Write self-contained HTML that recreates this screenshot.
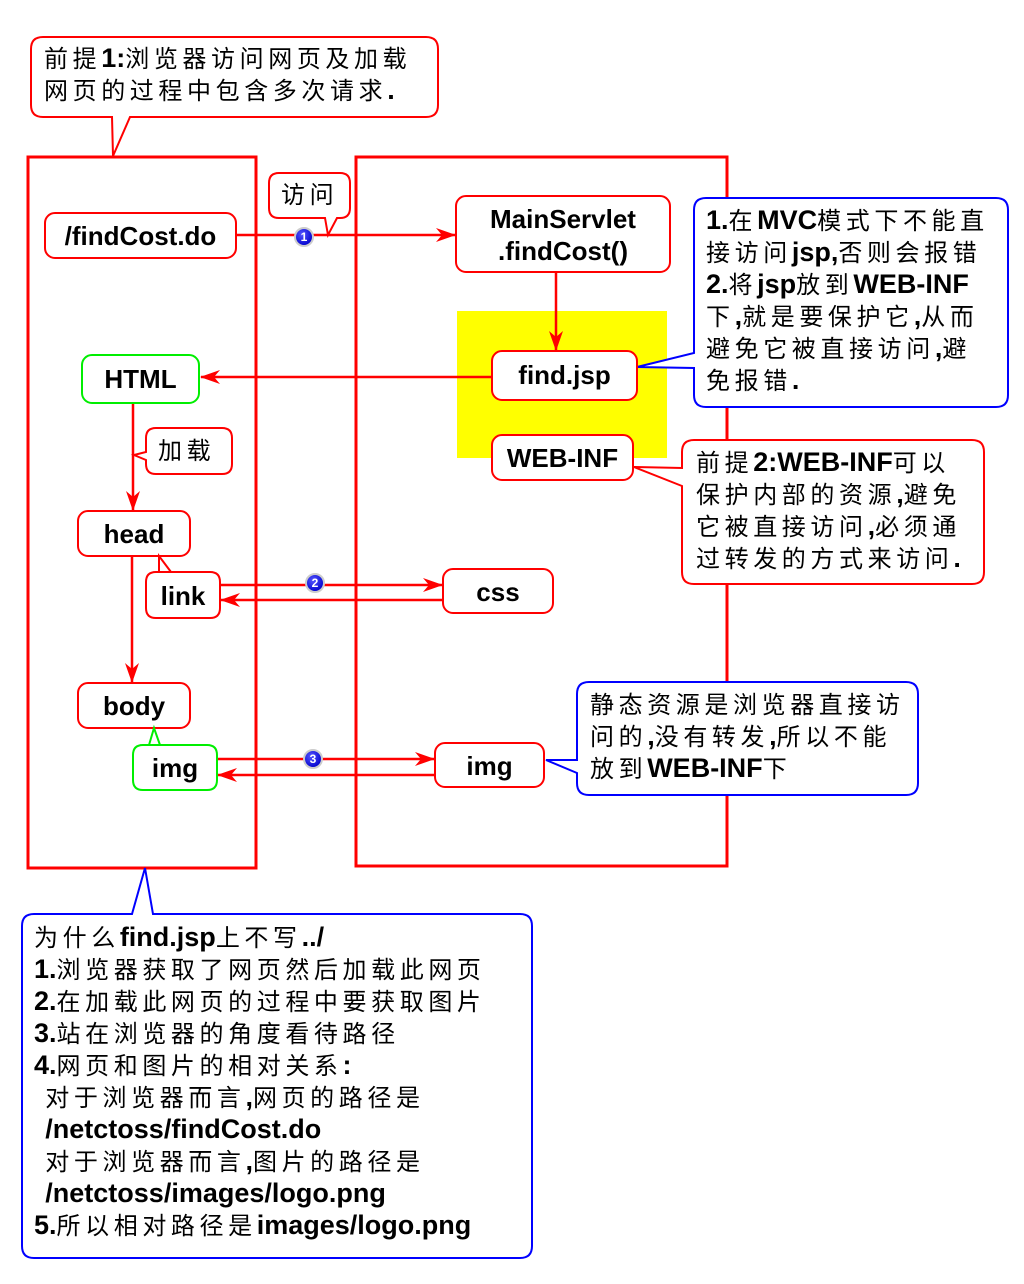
<!DOCTYPE html>
<html><head><meta charset="utf-8"><style>
body{margin:0;width:1024px;height:1284px;background:#fff;position:relative;overflow:hidden;font-family:"Liberation Sans","Noto Sans CJK SC",sans-serif;}
svg{position:absolute;left:0;top:0}
.t{position:absolute;font-size:24px;line-height:32px;letter-spacing:4.6px;color:#000;white-space:nowrap}
.t b{letter-spacing:0;font-size:27px;line-height:1}
.n{position:absolute;font-size:26px;font-weight:bold;text-align:center;line-height:32px;white-space:nowrap}
</style></head><body>
<svg width="1024" height="1284" viewBox="0 0 1024 1284">
<defs>
<marker id="a" markerWidth="20" markerHeight="14" refX="19" refY="7" orient="auto" markerUnits="userSpaceOnUse"><path d="M0,0 L20,7 L0,14 L6,7 Z" fill="#f00"/></marker>
<radialGradient id="g" cx="40%" cy="35%" r="65%"><stop offset="0" stop-color="#55f"/><stop offset="1" stop-color="#00c"/></radialGradient>
</defs>
<g fill="none" stroke="#f00" stroke-width="3">
<rect x="28" y="157" width="228" height="711"/>
<rect x="356" y="157" width="371" height="709"/>
</g>
<rect x="457" y="311" width="210" height="147" fill="#ff0"/>
<g stroke-width="2" fill="#fff">
<path d="M43,37 H426 Q438,37 438,49 V105 Q438,117 426,117 H130 L113,156 L112,117 H43 Q31,117 31,105 V49 Q31,37 43,37 Z" stroke="#f00"/>
<path d="M279,173 H340 Q350,173 350,183 V208 Q350,218 340,218 H337 L328,235 L325,218 H279 Q269,218 269,208 V183 Q269,173 279,173 Z" stroke="#f00"/>
<path d="M156,428 H222 Q232,428 232,438 V464 Q232,474 222,474 H156 Q146,474 146,464 V460 L134,455 L146,452 V438 Q146,428 156,428 Z" stroke="#f00"/>
<path d="M706,198 H996 Q1008,198 1008,210 V395 Q1008,407 996,407 H706 Q694,407 694,395 V368 L637,367 L694,353 V210 Q694,198 706,198 Z" stroke="#00f"/>
<path d="M694,440 H972 Q984,440 984,452 V572 Q984,584 972,584 H694 Q682,584 682,572 V486 L634,467 L682,468 V452 Q682,440 694,440 Z" stroke="#f00"/>
<path d="M589,682 H906 Q918,682 918,694 V783 Q918,795 906,795 H589 Q577,795 577,783 V773 L546,760 L577,760 V694 Q577,682 589,682 Z" stroke="#00f"/>
<path d="M34,914 H132 L145,868 L153,914 H520 Q532,914 532,926 V1246 Q532,1258 520,1258 H34 Q22,1258 22,1246 V926 Q22,914 34,914 Z" stroke="#00f"/>
</g>
<g stroke="#f00" stroke-width="2.5" fill="none">
<line x1="236" y1="235" x2="455" y2="235" marker-end="url(#a)"/>
<line x1="556" y1="272" x2="556" y2="350" marker-end="url(#a)"/>
<line x1="492" y1="377" x2="201" y2="377" marker-end="url(#a)"/>
<line x1="133" y1="403" x2="133" y2="510" marker-end="url(#a)"/>
<line x1="132" y1="556" x2="132" y2="682" marker-end="url(#a)"/>
<line x1="220" y1="585" x2="442" y2="585" marker-end="url(#a)"/>
<line x1="443" y1="600" x2="221" y2="600" marker-end="url(#a)"/>
<line x1="217" y1="759" x2="434" y2="759" marker-end="url(#a)"/>
<line x1="435" y1="775" x2="218" y2="775" marker-end="url(#a)"/>
</g>
<g stroke-width="2" fill="#fff">
<rect x="45" y="213" width="191" height="45" rx="10" stroke="#f00"/>
<rect x="456" y="196" width="214" height="76" rx="10" stroke="#f00"/>
<rect x="492" y="351" width="145" height="49" rx="10" stroke="#f00"/>
<rect x="492" y="435" width="141" height="45" rx="10" stroke="#f00"/>
<rect x="82" y="355" width="117" height="48" rx="10" stroke="#0e0"/>
<rect x="78" y="511" width="112" height="45" rx="10" stroke="#f00"/>
<path d="M156,572 H210 Q220,572 220,582 V608 Q220,618 210,618 H156 Q146,618 146,608 V582 Q146,572 156,572 H159 L159,556 L171,572" stroke="#f00"/>
<rect x="443" y="569" width="110" height="44" rx="10" stroke="#f00"/>
<rect x="78" y="683" width="112" height="45" rx="10" stroke="#f00"/>
<path d="M143,745 H207 Q217,745 217,755 V780 Q217,790 207,790 H143 Q133,790 133,780 V755 Q133,745 143,745 H149 L154,728 L160,745" stroke="#0e0"/>
<rect x="435" y="743" width="109" height="44" rx="10" stroke="#f00"/>
</g>
<g font-family="Liberation Sans" font-size="12" font-weight="bold" fill="#fff" text-anchor="middle">
<circle cx="304" cy="237" r="9" fill="url(#g)" stroke="#ccc" stroke-width="2"/><text x="304" y="241">1</text>
<circle cx="315" cy="583" r="9" fill="url(#g)" stroke="#ccc" stroke-width="2"/><text x="315" y="587">2</text>
<circle cx="313" cy="759" r="9" fill="url(#g)" stroke="#ccc" stroke-width="2"/><text x="313" y="763">3</text>
</g>
</svg>
<div class="n" style="left:45px;top:220px;width:191px">/findCost.do</div>
<div class="n" style="left:456px;top:203px;width:214px">MainServlet<br>.findCost()</div>
<div class="n" style="left:492px;top:359px;width:145px">find.jsp</div>
<div class="n" style="left:492px;top:442px;width:141px">WEB-INF</div>
<div class="n" style="left:82px;top:363px;width:117px">HTML</div>
<div class="n" style="left:78px;top:518px;width:112px">head</div>
<div class="n" style="left:146px;top:580px;width:74px">link</div>
<div class="n" style="left:443px;top:576px;width:110px">css</div>
<div class="n" style="left:78px;top:690px;width:112px">body</div>
<div class="n" style="left:133px;top:752px;width:84px">img</div>
<div class="n" style="left:435px;top:750px;width:109px">img</div>
<div class="t" style="left:44px;top:44px">前提<b>1:</b>浏览器访问网页及加载<br>网页的过程中包含多次请求<b>.</b></div>
<div class="t" style="left:281px;top:180px">访问</div>
<div class="t" style="left:158px;top:436px">加载</div>
<div class="t" style="left:706px;top:206px"><b>1.</b>在<b>MVC</b>模式下不能直<br>接访问<b>jsp,</b>否则会报错<br><b>2.</b>将<b>jsp</b>放到<b>WEB-INF</b><br>下<b>,</b>就是要保护它<b>,</b>从而<br>避免它被直接访问<b>,</b>避<br>免报错<b>.</b></div>
<div class="t" style="left:696px;top:448px">前提<b>2:WEB-INF</b>可以<br>保护内部的资源<b>,</b>避免<br>它被直接访问<b>,</b>必须通<br>过转发的方式来访问<b>.</b></div>
<div class="t" style="left:590px;top:690px">静态资源是浏览器直接访<br>问的<b>,</b>没有转发<b>,</b>所以不能<br>放到<b>WEB-INF</b>下</div>
<div class="t" style="left:34px;top:923px">为什么<b>find.jsp</b>上不写<b>../</b><br><b>1.</b>浏览器获取了网页然后加载此网页<br><b>2.</b>在加载此网页的过程中要获取图片<br><b>3.</b>站在浏览器的角度看待路径<br><b>4.</b>网页和图片的相对关系<b>:</b><br>&nbsp;对于浏览器而言<b>,</b>网页的路径是<br>&nbsp;<b>/netctoss/findCost.do</b><br>&nbsp;对于浏览器而言<b>,</b>图片的路径是<br>&nbsp;<b>/netctoss/images/logo.png</b><br><b>5.</b>所以相对路径是<b>images/logo.png</b></div>
</body></html>
